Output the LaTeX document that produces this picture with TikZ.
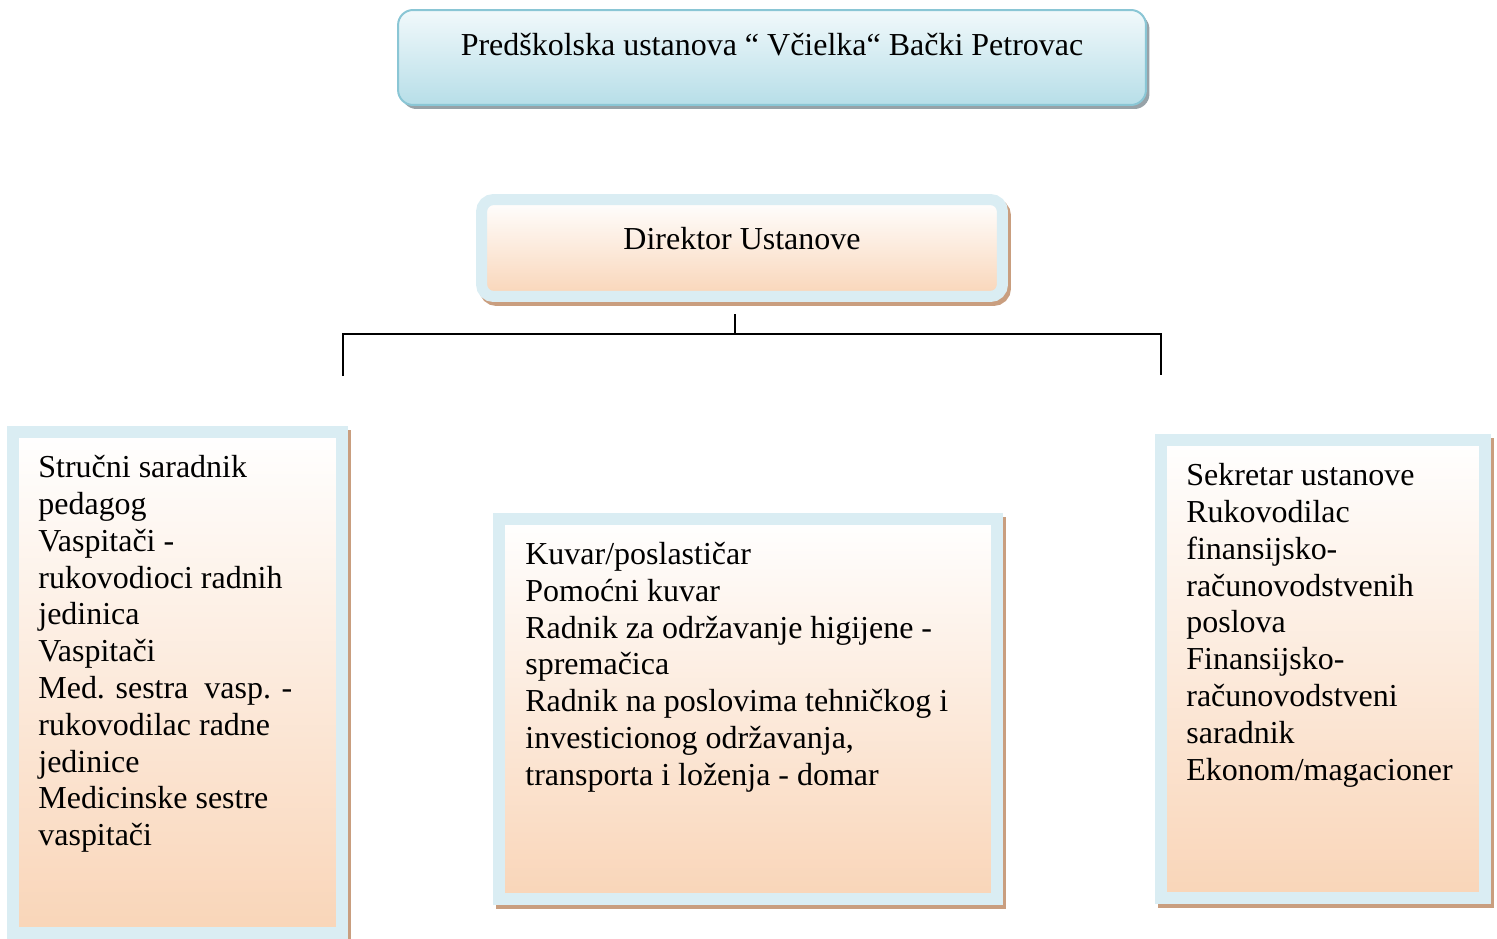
\documentclass[tikz,border=0pt]{standalone}
\usepackage{fontspec}
\setmainfont{Liberation Serif}
\usetikzlibrary{positioning,shadows}
\definecolor{bandblue}{RGB}{218,237,243}
\definecolor{peach}{RGB}{249,213,184}
\definecolor{shadowbrown}{RGB}{201,158,127}
\definecolor{skyedge}{RGB}{138,198,213}
\definecolor{skytop}{RGB}{241,249,251}
\definecolor{skybottom}{RGB}{183,222,232}
\definecolor{skyshadow}{RGB}{140,152,158}
\tikzset{
  orgfont/.style={font=\fontsize{18.2}{20.95}\selectfont},
  head/.style={draw=skyedge, line width=0.04cm, rounded corners=0.3cm,
    top color=skytop, bottom color=skybottom, orgfont,
    minimum width=14.96cm, minimum height=1.9cm,
    text height=0.3cm, text depth=0.36cm,
    drop shadow={shadow xshift=0.07cm, shadow yshift=-0.08cm,
      fill=skyshadow, opacity=.9}},
  boss/.style={draw=bandblue, line width=0.22cm, rounded corners=0.24cm,
    top color=white, bottom color=peach, orgfont,
    minimum width=10.42cm, minimum height=1.94cm,
    text height=0.34cm, text depth=0.26cm,
    drop shadow={shadow xshift=0.06cm, shadow yshift=-0.08cm,
      fill=shadowbrown, draw=shadowbrown, line width=0.22cm, opacity=1}},
  unit/.style={draw=bandblue, line width=0.24cm, outer sep=0pt, inner sep=0pt,
    top color=white, bottom color=peach,
    drop shadow={shadow xshift=0.06cm, shadow yshift=-0.08cm,
      fill=shadowbrown, draw=shadowbrown, line width=0.24cm, opacity=1}},
  roster/.style={align=left, inner sep=0pt, orgfont},
  link/.style={draw=black, line width=0.03cm}
}

\begin{document}
\begin{tikzpicture}[x=0.02cm,y=-0.02cm]
\useasboundingbox (0,0) rectangle (1497,939);

% top of the chart
\node[head] (school) at (772,57.5) {Predškolska ustanova “ Včielka“ Bački Petrovac};
\node[boss] (director) at (742,248) {Direktor Ustanove};

% three units
\node[unit, minimum width=6.58cm, minimum height=10.02cm] (staffL) at (177.5,682.5) {};
\node[unit, minimum width=9.96cm, minimum height=7.61cm] (staffM) at (748,709) {};
\node[unit, minimum width=6.48cm, minimum height=9.16cm] (staffR) at (1323,669) {};

\node[roster, below right=0.46cm and 0.5cm of staffL.north west] (listL)
  {Stručni saradnik\\pedagog\\Vaspitači -\\rukovodioci radnih\\jedinica\\Vaspitači\\
   Med. sestra\ \ vasp. -\\rukovodilac radne\\jedinice\\Medicinske sestre\\vaspitači};
\node[roster, below right=0.46cm and 0.52cm of staffM.north west] (listM)
  {Kuvar/poslastičar\\Pomoćni kuvar\\Radnik za održavanje higijene -\\spremačica\\
   Radnik na poslovima tehničkog i\\investicionog održavanja,\\transporta i loženja - domar};
\node[roster, below right=0.46cm and 0.5cm of staffR.north west] (listR)
  {Sekretar ustanove\\Rukovodilac\\finansijsko-\\računovodstvenih\\poslova\\Finansijsko-\\
   računovodstveni\\saradnik\\Ekonom/magacioner};

% branching lines
\coordinate (dirFoot) at (735,314);
\coordinate (split) at (735,334);
\coordinate (tipL) at (343,376);
\coordinate (tipR) at (1161,375);
\draw[link] (dirFoot) -- (split);
\draw[link] (tipL) |- (split) -| (tipR);

\end{tikzpicture}
\end{document}
